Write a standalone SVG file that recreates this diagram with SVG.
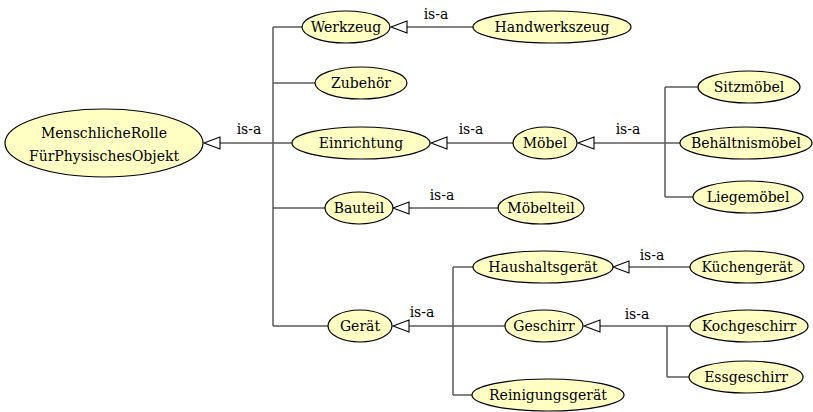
<svg xmlns="http://www.w3.org/2000/svg" width="813" height="412" viewBox="0 0 813 412">
  <style>
    .node ellipse { fill: #ffffc4; stroke: #000; stroke-width: 1.2; }
    text { font-family: 'DejaVu Serif', 'Liberation Serif', serif; font-size: 14px; fill: #000; text-anchor: middle; }
    .edge { fill: none; stroke: #5a5a5a; stroke-width: 1.5; }
    .head { fill: #fff; stroke: #000; stroke-width: 1.1; }
  </style>
  <defs>
    <!-- hollow is-a arrowhead, tip at the origin, pointing left -->
    <path id="isa" d="M0,0 L16,-6 L16,6 Z"/>
  </defs>
  <rect width="813" height="412" fill="#fff"/>

  <g id="connectors">
    <!-- top-level hierarchy -->
    <path class="edge" d="M273,143 H219"/>
    <path class="edge" d="M273,27 V326 M273,27 H302 M273,83 H315 M273,143 H292 M273,208 H325 M273,326 H328"/>
    <use href="#isa" class="head" x="204" y="143"/>
    <!-- Werkzeug -->
    <path class="edge" d="M473,27 H406"/>
    <use href="#isa" class="head" x="391" y="27"/>
    <!-- Einrichtung -->
    <path class="edge" d="M513,143 H446"/>
    <use href="#isa" class="head" x="431" y="143"/>
    <!-- Möbel -->
    <path class="edge" d="M665,143 H593"/>
    <path class="edge" d="M665,87 V197 M665,87 H698 M665,143 H680 M665,197 H693"/>
    <use href="#isa" class="head" x="578" y="143"/>
    <!-- Bauteil -->
    <path class="edge" d="M498,208 H408"/>
    <use href="#isa" class="head" x="393" y="208"/>
    <!-- Gerät -->
    <path class="edge" d="M505,326 H408"/>
    <path class="edge" d="M453,267 V395 M453,267 H473 M453,395 H472"/>
    <use href="#isa" class="head" x="393" y="326"/>
    <!-- Haushaltsgerät -->
    <path class="edge" d="M690,267 H628"/>
    <use href="#isa" class="head" x="613" y="267"/>
    <!-- Geschirr -->
    <path class="edge" d="M667,326 H599"/>
    <path class="edge" d="M667,326 V377 M667,326 H690 M667,377 H689"/>
    <use href="#isa" class="head" x="584" y="326"/>
  </g>

  <g id="labels">
    <text x="249" y="134">is-a</text>
    <text x="436" y="19">is-a</text>
    <text x="471" y="134">is-a</text>
    <text x="628" y="134">is-a</text>
    <text x="442" y="200">is-a</text>
    <text x="422" y="317">is-a</text>
    <text x="652" y="260">is-a</text>
    <text x="637" y="319">is-a</text>
  </g>

  <g id="nodes">
    <g id="n-root" class="node"><ellipse cx="104" cy="143" rx="99" ry="34"/>
      <text x="104" y="138">MenschlicheRolle</text><text x="104" y="161">FürPhysischesObjekt</text></g>
    <g id="n-werkzeug" class="node"><ellipse cx="346" cy="27" rx="44" ry="16"/><text x="346" y="32">Werkzeug</text></g>
    <g id="n-handwerkszeug" class="node"><ellipse cx="552" cy="27" rx="79" ry="16"/><text x="552" y="32">Handwerkszeug</text></g>
    <g id="n-zubehoer" class="node"><ellipse cx="361" cy="83" rx="46" ry="16"/><text x="361" y="88">Zubehör</text></g>
    <g id="n-einrichtung" class="node"><ellipse cx="361" cy="143" rx="69" ry="16"/><text x="361" y="148">Einrichtung</text></g>
    <g id="n-moebel" class="node"><ellipse cx="545" cy="143" rx="32" ry="16"/><text x="545" y="148">Möbel</text></g>
    <g id="n-sitzmoebel" class="node"><ellipse cx="749" cy="87" rx="51" ry="16"/><text x="749" y="92">Sitzmöbel</text></g>
    <g id="n-behaeltnismoebel" class="node"><ellipse cx="746" cy="143" rx="66" ry="16"/><text x="746" y="148">Behältnismöbel</text></g>
    <g id="n-liegemoebel" class="node"><ellipse cx="748" cy="197" rx="55" ry="16"/><text x="748" y="202">Liegemöbel</text></g>
    <g id="n-bauteil" class="node"><ellipse cx="359" cy="208" rx="34" ry="16"/><text x="359" y="213">Bauteil</text></g>
    <g id="n-moebelteil" class="node"><ellipse cx="541" cy="208" rx="43" ry="16"/><text x="541" y="213">Möbelteil</text></g>
    <g id="n-geraet" class="node"><ellipse cx="360" cy="326" rx="32" ry="16"/><text x="360" y="331">Gerät</text></g>
    <g id="n-haushaltsgeraet" class="node"><ellipse cx="543" cy="267" rx="70" ry="16"/><text x="543" y="272">Haushaltsgerät</text></g>
    <g id="n-kuechengeraet" class="node"><ellipse cx="747" cy="267" rx="57" ry="16"/><text x="747" y="272">Küchengerät</text></g>
    <g id="n-geschirr" class="node"><ellipse cx="544" cy="326" rx="39" ry="16"/><text x="544" y="331">Geschirr</text></g>
    <g id="n-kochgeschirr" class="node"><ellipse cx="749" cy="326" rx="59" ry="16"/><text x="749" y="331">Kochgeschirr</text></g>
    <g id="n-essgeschirr" class="node"><ellipse cx="746" cy="377" rx="57" ry="16"/><text x="746" y="382">Essgeschirr</text></g>
    <g id="n-reinigungsgeraet" class="node"><ellipse cx="548" cy="395" rx="76" ry="16"/><text x="548" y="400">Reinigungsgerät</text></g>
  </g>
</svg>
